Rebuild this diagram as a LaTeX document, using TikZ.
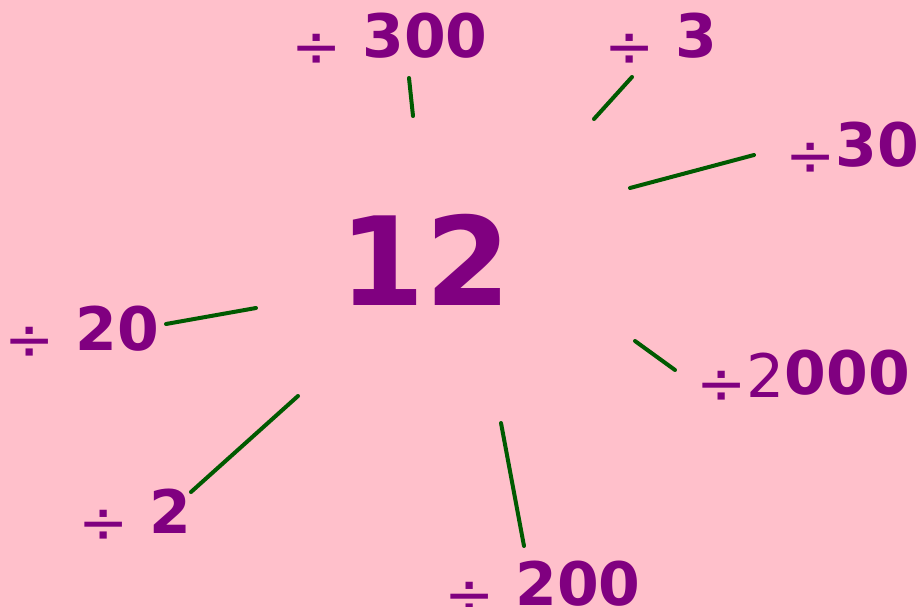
\documentclass[tikz,border=0pt]{standalone}
\usepackage{fontspec}
\setmainfont{DejaVu Sans}
\definecolor{bgpink}{RGB}{255,192,203}
\definecolor{numpurple}{RGB}{128,0,128}
\definecolor{raygreen}{RGB}{0,90,0}
\newcommand{\dv}{\raisebox{-10pt}{\textmd{÷}}}

\begin{document}
\begin{tikzpicture}[
  x=1pt, y=-1pt,
  num/.style={anchor=base west, inner sep=0pt, text=numpurple, font=\fontsize{60}{60}\selectfont\bfseries},
  centre/.style={anchor=base, inner sep=0pt, text=numpurple, font=\fontsize{123}{123}\selectfont\bfseries},
  ray/.style={draw=raygreen, line width=4pt, line cap=round}
]
\fill[bgpink] (0,0) rectangle (921,607);
\useasboundingbox (0,0) rectangle (921,607);

\node[centre] (twelve) at (425,305) {12};

\node[num] (d300)  at (291,58)  {\dv\ 300};
\node[num] (d3)    at (604,58)  {\dv\ 3};
\node[num] (d30)   at (785,166) {\dv30};
\node[num] (d20)   at (4,350)   {\dv\ 20};
\node[num] (d2000) at (696,394) {\dv\raisebox{-3pt}{\textmd{2}}000};
\node[num] (d2)    at (78,533)  {\dv\ 2};
\node[num] (d200)  at (444,605) {\dv\ 200};

\foreach \n/\xa/\ya/\xb/\yb in {1/413/116/409/78, 2/594/119/632/77, 3/630/188/754/155,
    4/256/308/166/324, 5/635/341/675/370, 6/298/396/191/492, 7/501/423/524/546}
  { \coordinate (in\n) at (\xa,\ya); \coordinate (out\n) at (\xb,\yb); }
\foreach \n in {1,...,7} { \draw[ray] (in\n) -- (out\n); }
\end{tikzpicture}
\end{document}
